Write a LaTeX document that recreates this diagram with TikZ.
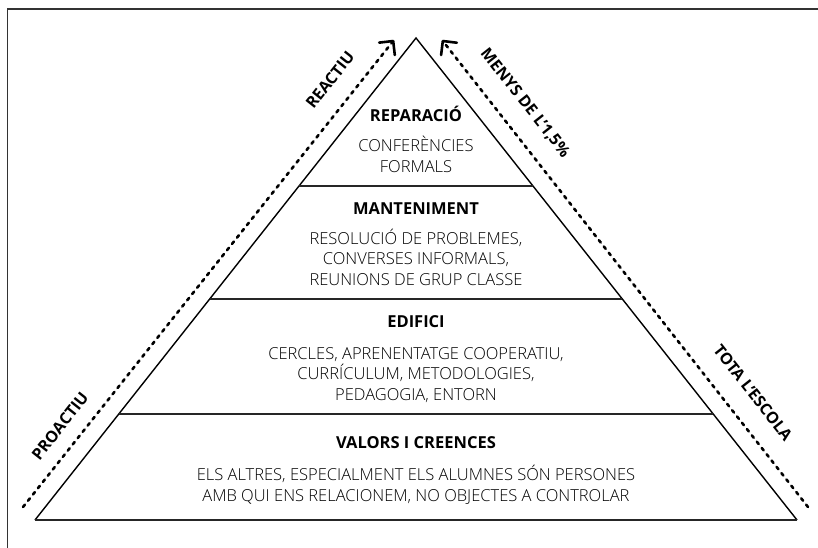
\documentclass[tikz,border=0pt]{standalone}
\usepackage{fontspec}
\setmainfont{Open Sans}
\IfFontExistsTF{Open Sans Light}
  {\newfontfamily\lightfont{Open Sans Light}}
  {\newfontfamily\lightfont{Open Sans}}
\usetikzlibrary{arrows.meta,calc}

\begin{document}
\begin{tikzpicture}[
    x = 1pt,
    y = -1pt,
    >={Straight Barb[length=10pt, width=20pt, round]},
    side/.style = {black, line width=1.4pt},
    layer/.style = {black!85, line width=1.8pt},
    trail/.style = {->, black, line width=2.6pt, dash pattern=on 3pt off 5pt, line cap=round},
    head/.style = {font=\bfseries\fontsize{16.5}{20.5}\selectfont, inner sep=0pt},
    body/.style = {font=\lightfont\fontsize{16.5}{20.5}\selectfont, align=center, inner sep=0pt},
    tag/.style = {font=\bfseries\fontsize{16}{19}\selectfont, inner sep=0pt},
    ]

\useasboundingbox (0,0) rectangle (818,548);

% frame
\draw [black!80, line width=1.5pt] (818,9) -- (7.5,9) -- (7.5,548);

% pyramid
\coordinate (apex) at (416,38);
\coordinate (base_l) at (35,520);
\coordinate (base_r) at (797,520);
\draw [side] (base_l) -- (apex) -- (base_r);
\draw [layer] (base_l) -- (base_r);
\foreach \t in {0.693, 0.4585, 0.22}
  \draw [layer] ($(base_l)!\t!(apex)$) -- ($(base_r)!\t!(apex)$);

% levels (base = last line)
\node [head, anchor=base] (title_1) at (416,122) {REPARACIÓ};
\node [body, anchor=base] (text_1) at (416,172) {CONFERÈNCIES\\FORMALS};
\node [head, anchor=base] (title_2) at (416,214) {MANTENIMENT};
\node [body, anchor=base] (text_2) at (416,285) {RESOLUCIÓ DE PROBLEMES,\\CONVERSES INFORMALS,\\REUNIONS DE GRUP CLASSE};
\node [head, anchor=base] (title_3) at (416,327) {EDIFICI};
\node [body, anchor=base] (text_3) at (416,400) {CERCLES, APRENENTATGE COOPERATIU,\\CURRÍCULUM, METODOLOGIES,\\PEDAGOGIA, ENTORN};
\node [head, anchor=base] (title_4) at (416,448) {VALORS I CREENCES};
\node [body, anchor=base] (text_4) at (416,501) {ELS ALTRES, ESPECIALMENT ELS ALUMNES SÓN PERSONES\\AMB QUI ENS RELACIONEM, NO OBJECTES A CONTROLAR};

% dotted arrows along the sides
\coordinate (tail_l) at (23,507);
\coordinate (tip_l) at (394,40);
\coordinate (tail_r) at (808,507);
\coordinate (tip_r) at (442,40);
\draw [trail] (tail_l) -- (tip_l);
\draw [trail] (tail_r) -- (tip_r);

\node [tag, rotate=51.7] (reactiu) at (330,80) {REACTIU};
\node [tag, rotate=51.7] (proactiu) at (60,426) {PROACTIU};
\node [tag, rotate=-51.7] (menys) at (525,103) {MENYS DE L'1,5\%};
\node [tag, rotate=-51.7] (tota) at (753,393) {TOTA L'ESCOLA};

\end{tikzpicture}
\end{document}
